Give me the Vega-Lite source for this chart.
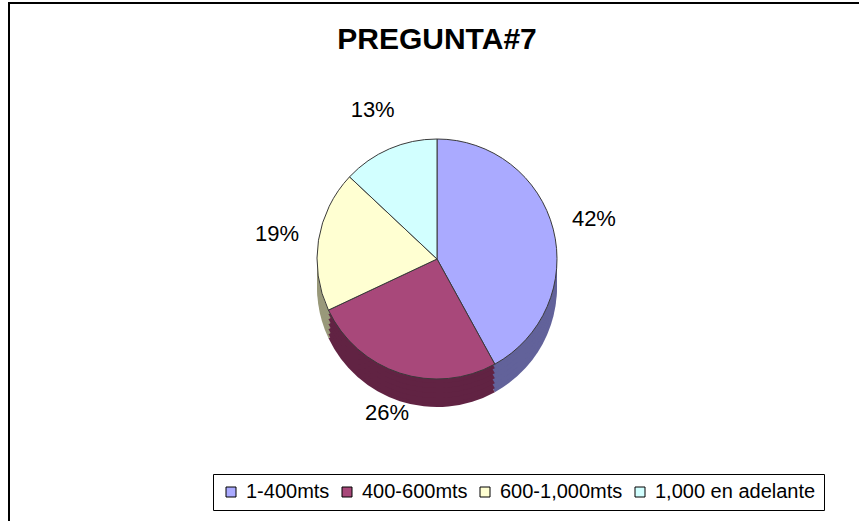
{
  "$schema": "https://vega.github.io/schema/vega-lite/v6.json",
  "width": 856,
  "height": 540,
  "autosize": {"type": "none"},
  "padding": {"left": 9, "top": 3, "right": 0, "bottom": 0},
  "background": "white",
  "view": {"stroke": "black", "strokeWidth": 2, "fill": "white"},
  "title": {
    "text": "PREGUNTA#7",
    "font": "Liberation Sans",
    "fontSize": 30,
    "fontWeight": "bold",
    "color": "black",
    "anchor": "middle",
    "frame": "group",
    "baseline": "alphabetic",
    "offset": -76
  },
  "data": {
    "values": [
      {"categoria": "1-400mts", "pct": 0.42},
      {"categoria": "400-600mts", "pct": 0.26},
      {"categoria": "600-1,000mts", "pct": 0.19},
      {"categoria": "1,000 en adelante", "pct": 0.13}
    ]
  },
  "encoding": {
    "theta": {"field": "pct", "type": "quantitative", "stack": true},
    "order": {"field": "pct", "type": "quantitative", "sort": "descending"}
  },
  "layer": [
    {
      "mark": {"type": "arc", "outerRadius": 120, "yOffset": 14},
      "encoding": {
        "color": {"field": "categoria", "type": "nominal", "legend": null,
          "scale": {"domain": ["1-400mts", "400-600mts", "600-1,000mts", "1,000 en adelante"], "range": ["#62629A", "#612343", "#99997A", "#7A9999"]}}
      }
    },
    {
      "mark": {"type": "arc", "outerRadius": 120, "yOffset": 10},
      "encoding": {
        "color": {"field": "categoria", "type": "nominal", "legend": null,
          "scale": {"domain": ["1-400mts", "400-600mts", "600-1,000mts", "1,000 en adelante"], "range": ["#62629A", "#612343", "#99997A", "#7A9999"]}}
      }
    },
    {
      "mark": {"type": "arc", "outerRadius": 120, "yOffset": 5},
      "encoding": {
        "color": {"field": "categoria", "type": "nominal", "legend": null,
          "scale": {"domain": ["1-400mts", "400-600mts", "600-1,000mts", "1,000 en adelante"], "range": ["#62629A", "#612343", "#99997A", "#7A9999"]}}
      }
    },
    {
      "mark": {"type": "arc", "outerRadius": 120, "yOffset": 0},
      "encoding": {
        "color": {"field": "categoria", "type": "nominal", "legend": null,
          "scale": {"domain": ["1-400mts", "400-600mts", "600-1,000mts", "1,000 en adelante"], "range": ["#62629A", "#612343", "#99997A", "#7A9999"]}}
      }
    },
    {
      "mark": {"type": "arc", "outerRadius": 120, "yOffset": -5},
      "encoding": {
        "color": {"field": "categoria", "type": "nominal", "legend": null,
          "scale": {"domain": ["1-400mts", "400-600mts", "600-1,000mts", "1,000 en adelante"], "range": ["#62629A", "#612343", "#99997A", "#7A9999"]}}
      }
    },
    {
      "mark": {"type": "arc", "outerRadius": 120, "yOffset": -10},
      "encoding": {
        "color": {"field": "categoria", "type": "nominal", "legend": null,
          "scale": {"domain": ["1-400mts", "400-600mts", "600-1,000mts", "1,000 en adelante"], "range": ["#62629A", "#612343", "#99997A", "#7A9999"]}}
      }
    },
    {
      "mark": {"type": "arc", "outerRadius": 120, "yOffset": -14, "stroke": "#3a3a3a", "strokeWidth": 1},
      "encoding": {
        "color": {
          "field": "categoria",
          "type": "nominal",
          "scale": {
            "domain": ["1-400mts", "400-600mts", "600-1,000mts", "1,000 en adelante"],
            "range": ["#AAAAFF", "#A8487A", "#FFFFD2", "#D2FFFF"]
          },
          "legend": {
            "title": null,
            "orient": "none",
            "direction": "horizontal",
            "legendX": 204,
            "legendY": 471,
            "padding": 8,
            "strokeColor": "black",
            "fillColor": "white",
            "symbolType": "square",
            "symbolSize": 100,
            "symbolStrokeColor": "black",
            "symbolStrokeWidth": 1,
            "symbolOpacity": 1,
            "labelFont": "Liberation Sans",
            "labelFontSize": 20,
            "labelColor": "black",
            "labelOffset": 5,
            "columnPadding": 7,
            "labelLimit": 300
          }
        }
      }
    },
    {
      "mark": {"type": "text", "radius": 162, "yOffset": -14, "font": "Liberation Sans", "fontSize": 22, "fill": "black"},
      "encoding": {
        "text": {"field": "pct", "type": "quantitative", "format": ".0%"}
      }
    }
  ],
  "resolve": {"scale": {"color": "independent"}}
}
